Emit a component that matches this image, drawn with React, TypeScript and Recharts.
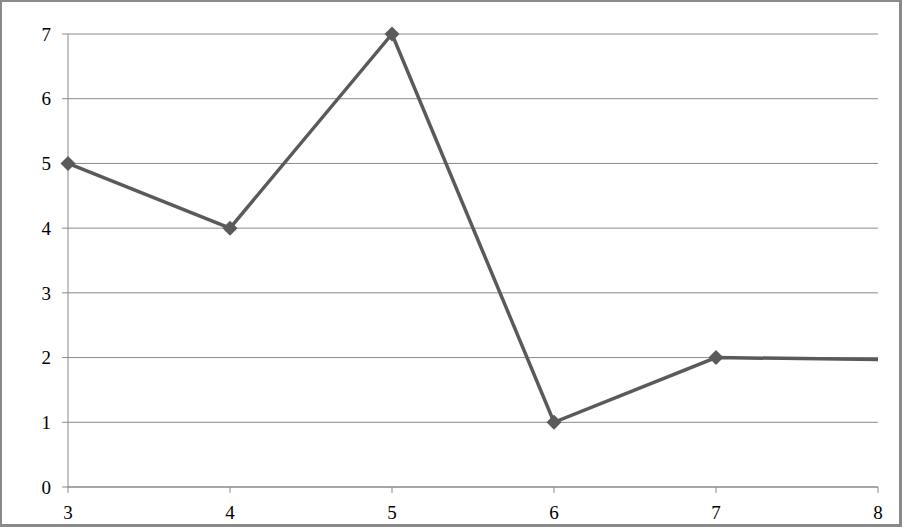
import { CartesianGrid, Line, LineChart, XAxis, YAxis } from "recharts";

const xValues = [3, 4, 5, 6, 7, 8];
const yValues = [5, 4, 7, 1, 2, 1.97];
const xTicks = [3, 4, 5, 6, 7, 8];
const yTicks = [0, 1, 2, 3, 4, 5, 6, 7];

const data = xValues.map((x, i) => ({ x, y: yValues[i] }));

const lineColor = "#5a5a5a";
const gridColor = "#898989";
const font = "'Liberation Serif', 'Times New Roman', serif";

// diamond marker, last point has none in the original
const Diamond = (props: any) => {
  const { cx, cy, index } = props;
  if (index === data.length - 1 || cx == null || cy == null) return <g key={index} />;
  const r = 7.5;
  return (
    <polygon
      key={index}
      points={`${cx},${cy - r} ${cx + r},${cy} ${cx},${cy + r} ${cx - r},${cy}`}
      fill={lineColor}
      stroke="none"
    />
  );
};

export default function App() {
  return (
    <div style={{ position: "absolute", left: 0, top: 0, width: 902, height: 527, background: "#fff" }}>
      <LineChart
        width={902}
        height={527}
        data={data}
        margin={{ top: 34, right: 24, bottom: 0, left: 0 }}
      >
        <CartesianGrid stroke={gridColor} vertical={false} />
        <XAxis
          dataKey="x"
          type="number"
          domain={[3, 8]}
          ticks={xTicks}
          height={40}
          stroke={gridColor}
          tickSize={6}
          tickMargin={13}
          tick={{ fill: "#000", fontSize: 19, fontFamily: font }}
        />
        <YAxis
          type="number"
          domain={[0, 7]}
          ticks={yTicks}
          width={68}
          stroke={gridColor}
          tickSize={6}
          tickMargin={11}
          tick={{ fill: "#000", fontSize: 19, fontFamily: font }}
        />
        <Line
          dataKey="y"
          type="linear"
          stroke={lineColor}
          strokeWidth={3.5}
          dot={Diamond}
          activeDot={false}
          isAnimationActive={false}
        />
      </LineChart>
      <div
        style={{
          position: "absolute",
          inset: 0,
          borderStyle: "solid",
          borderColor: "#8a8a8a",
          borderWidth: "2px 3px 3px 2px",
          pointerEvents: "none",
        }}
      />
    </div>
  );
}
